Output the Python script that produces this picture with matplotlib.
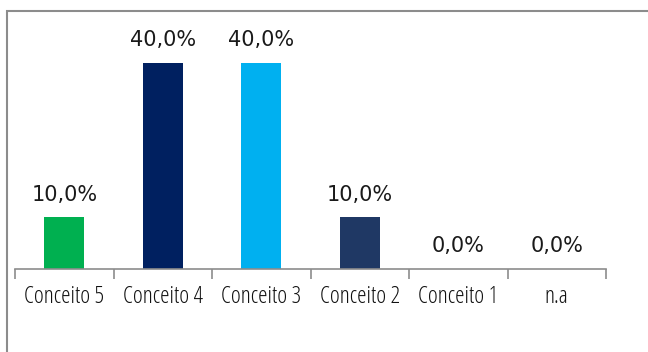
import matplotlib
matplotlib.use("Agg")
import matplotlib.pyplot as plt
from matplotlib.patches import Rectangle

categories = ["Conceito 5", "Conceito 4", "Conceito 3", "Conceito 2", "Conceito 1", "n.a"]
values = [0.10, 0.40, 0.40, 0.10, 0.0, 0.0]
colors = ["#00B050", "#002060", "#00B0F0", "#1F3864", "#1F3864", "#1F3864"]

W, H = 648, 352
fig = plt.figure(figsize=(W / 100, H / 100), dpi=100)

# outer grey frame (cut off at right/bottom like the original)
fig.patches.append(Rectangle((6.5 / W, -0.1), 1.2, 1.1 - 11.5 / H,
                             transform=fig.transFigure, fill=False,
                             edgecolor="#8c8c8c", linewidth=1.5))

ax = fig.add_axes([15 / W, (H - 269) / H, 591 / W, 258 / H])
x = range(len(categories))
bars = ax.bar(x, values, width=0.41, color=colors)

ax.set_xlim(-0.5, len(categories) - 0.5)
ax.set_ylim(0, 0.5)

for xi, v in zip(x, values):
    ax.annotate(f"{v * 100:.1f}%".replace(".", ","), (xi, v),
                xytext=(0, 9), textcoords="offset points",
                ha="center", va="bottom", fontsize=15,
                family="DejaVu Sans", color="#1a1a1a")

for s in ["top", "right", "left"]:
    ax.spines[s].set_visible(False)
ax.spines["bottom"].set_color("#8c8c8c")
ax.spines["bottom"].set_linewidth(1.2)
ax.set_yticks([])

# tick marks at category boundaries
ax.set_xticks([i - 0.5 for i in range(len(categories) + 1)], minor=False)
ax.set_xticklabels([])
ax.tick_params(axis="x", length=7, color="#8c8c8c", width=1.2, direction="out")
for xi, c in zip(x, categories):
    ax.text(xi, -0.054, c, ha="center", va="center", fontsize=17,
            family=["Open Sans", "DejaVu Sans"], fontstretch="condensed",
            fontweight="medium", color="#111111", transform=ax.transData)

fig.savefig("out.png", dpi=100)
